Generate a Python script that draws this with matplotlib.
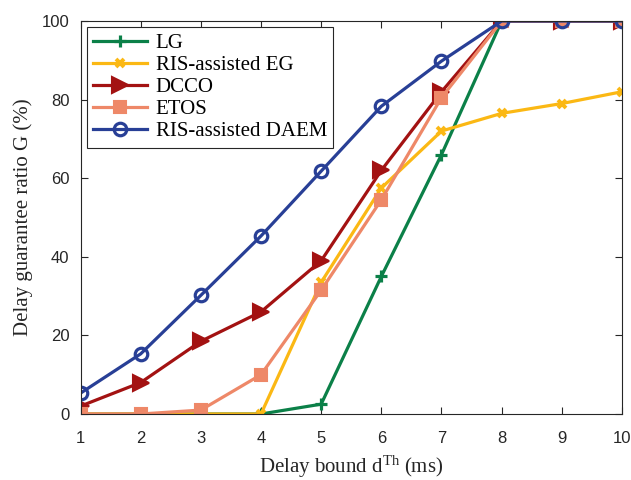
import numpy as np
import matplotlib
matplotlib.use('Agg')
import matplotlib.pyplot as plt

plt.rcParams['mathtext.fontset'] = 'custom'
plt.rcParams['mathtext.rm'] = 'Liberation Serif'
plt.rcParams['mathtext.it'] = 'Liberation Serif:italic'

x = [1, 2, 3, 4, 5, 6, 7, 8, 9, 10]
lg = [0, 0, 0, 0, 2.5, 35, 66, 100, 100, 100]
eg = [0, 0, 0, 0, 33.5, 57.5, 72, 76.5, 79, 82]
dcco = [2, 8, 18.5, 26, 39, 62, 82, 100, 100, 100]
etos = [0, 0, 1, 10, 31.5, 54.5, 80.5, 100, 100, 100]
daem = [5.3, 15.3, 30.2, 45.3, 61.8, 78.3, 89.8, 100, 100, 100]

fig = plt.figure(figsize=(6.31, 4.8), dpi=100)
ax = fig.add_axes([80.5 / 631, 1 - 414 / 480, (622 - 80.5) / 631, (414 - 21) / 480])

lw = 2.3
ax.plot(x, lg, color='#0B8048', lw=lw, marker='+', ms=9, mew=2.3, label='LG')
ax.plot(x, eg, color='#FBB814', lw=lw, marker='x', ms=6, mew=2.8, label='RIS-assisted EG')
ax.plot(x, dcco, color='#A31212', lw=lw, marker='>', ms=11, mew=1.5, label='DCCO')
ax.plot(x, etos, color='#EE8868', lw=lw, marker='s', ms=8, mew=1.5, label='ETOS')
ax.plot(x, daem, color='#283F96', lw=lw, marker='o', ms=9, mew=2.3, mfc='none', label='RIS-assisted DAEM')

ax.set_xlim(1, 10)
ax.set_ylim(0, 100)
ax.set_xticks(x)
ax.set_yticks([0, 20, 40, 60, 80, 100])
ax.tick_params(direction='in', top=True, right=True, length=5, width=0.8,
               labelsize=12, colors='#262626')
ax.tick_params(axis='x', pad=12)
ax.tick_params(axis='y', pad=8)
for lab in ax.get_xticklabels() + ax.get_yticklabels():
    lab.set_family('Liberation Sans')
for sp in ax.spines.values():
    sp.set_color('#262626')
    sp.set_linewidth(0.8)

ax.set_xlabel(r'Delay bound d$^{\rm Th}$ (ms)', family='Liberation Serif',
              fontsize=15, color='#262626', labelpad=6)
ax.set_ylabel('Delay guarantee ratio G (%)', family='Liberation Serif',
              fontsize=15, color='#262626', labelpad=6)

leg = ax.legend(loc='upper left', prop={'family': 'Liberation Serif', 'size': 15},
                fancybox=False, edgecolor='#262626', framealpha=1,
                labelspacing=0.12, handlelength=2.6, borderaxespad=0.3,
                borderpad=0.3, handletextpad=0.4)
leg.get_frame().set_linewidth(0.8)

plt.savefig('out.png', dpi=100)
